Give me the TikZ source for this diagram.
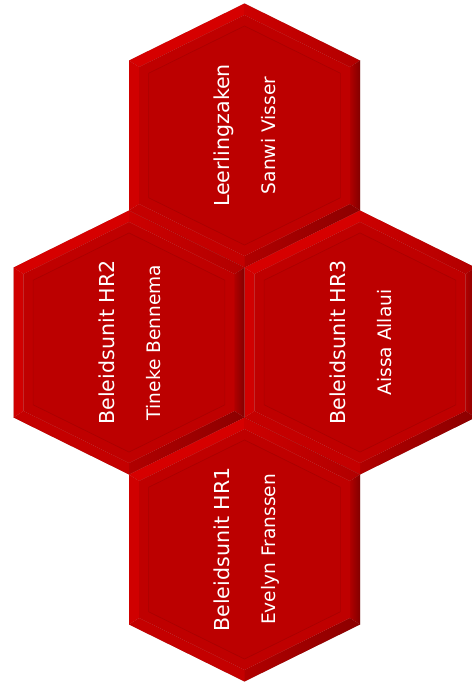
\documentclass[tikz,border=0pt]{standalone}
\usepackage{fontspec}
\setmainfont{DejaVu Sans}
\definecolor{face}{RGB}{188,0,0}
\definecolor{ring}{RGB}{191,0,0}
\definecolor{ringline}{RGB}{170,0,0}
\definecolor{bevTL}{RGB}{214,0,0}
\definecolor{bevL}{RGB}{208,0,0}
\definecolor{bevTRa}{RGB}{204,0,0}
\definecolor{bevTRb}{RGB}{178,0,0}
\definecolor{bevRa}{RGB}{176,0,0}
\definecolor{bevRb}{RGB}{130,0,0}
\definecolor{bevBRa}{RGB}{176,0,0}
\definecolor{bevBRb}{RGB}{140,0,0}
\definecolor{bevBL}{RGB}{196,0,0}
\def\ha{115.5}
\def\hb{132}
\def\hc{57}
\tikzset{
  hextitle/.style={text=white,rotate=90,anchor=base,inner sep=0pt,font=\fontsize{20.6}{22}\selectfont},
  hexname/.style={text=white,rotate=90,anchor=base,inner sep=0pt,font=\fontsize{18.6}{20}\selectfont},
}
\newcommand{\honey}[5]{%
\begin{scope}[shift={(#2,#3)}]
  \foreach \s/\p in {1/o,0.913/i,0.83/j}{
    \coordinate (#1-\p1) at (0,{-\hb*\s});
    \coordinate (#1-\p2) at ({\ha*\s},{(\hc-\hb)*\s});
    \coordinate (#1-\p3) at ({\ha*\s},{(\hb-\hc)*\s});
    \coordinate (#1-\p4) at (0,{\hb*\s});
    \coordinate (#1-\p5) at ({-\ha*\s},{(\hb-\hc)*\s});
    \coordinate (#1-\p6) at ({-\ha*\s},{(\hc-\hb)*\s});
  }
  \foreach \d/\op in {5/0.05,4/0.07,3/0.09,2/0.1}{
    \fill[black,opacity=\op,shift={(\d,\d)}] (#1-o1) -- (#1-o2) -- (#1-o3) -- (#1-o4) -- (#1-o5) -- (#1-o6) -- cycle;
  }
  \fill[bevTL] (#1-o6) -- (#1-o1) -- (#1-i1) -- (#1-i6) -- cycle;
  \shade[left color=bevTRa,right color=bevTRb] (#1-o1) -- (#1-o2) -- (#1-i2) -- (#1-i1) -- cycle;
  \shade[left color=bevRa,right color=bevRb] (#1-o2) -- (#1-o3) -- (#1-i3) -- (#1-i2) -- cycle;
  \shade[left color=bevBRa,right color=bevBRb] (#1-o3) -- (#1-o4) -- (#1-i4) -- (#1-i3) -- cycle;
  \fill[bevBL] (#1-o4) -- (#1-o5) -- (#1-i5) -- (#1-i4) -- cycle;
  \fill[bevL] (#1-o5) -- (#1-o6) -- (#1-i6) -- (#1-i5) -- cycle;
  \fill[ring] (#1-i1) -- (#1-i2) -- (#1-i3) -- (#1-i4) -- (#1-i5) -- (#1-i6) -- cycle;
  \fill[face,draw=ringline,line width=0.7pt] (#1-j1) -- (#1-j2) -- (#1-j3) -- (#1-j4) -- (#1-j5) -- (#1-j6) -- cycle;
  \node[hextitle] (#1-t) at (-15,0) {#4};
  \node[hexname] (#1-n) at (31,0) {#5};
\end{scope}}
\begin{document}
\begin{tikzpicture}[x=1pt,y=-1pt]
  \useasboundingbox (0,0) rectangle (471,685);
  \honey{lz}{244.5}{135.5}{Leerlingzaken}{Sanwi Visser}
  \honey{hrtwo}{129}{342.5}{Beleidsunit HR2}{Tineke Bennema}
  \honey{hrthree}{360}{342.5}{Beleidsunit HR3}{Aissa Allaui}
  \honey{hrone}{244.5}{549.5}{Beleidsunit HR1}{Evelyn Franssen}
\end{tikzpicture}
\end{document}
